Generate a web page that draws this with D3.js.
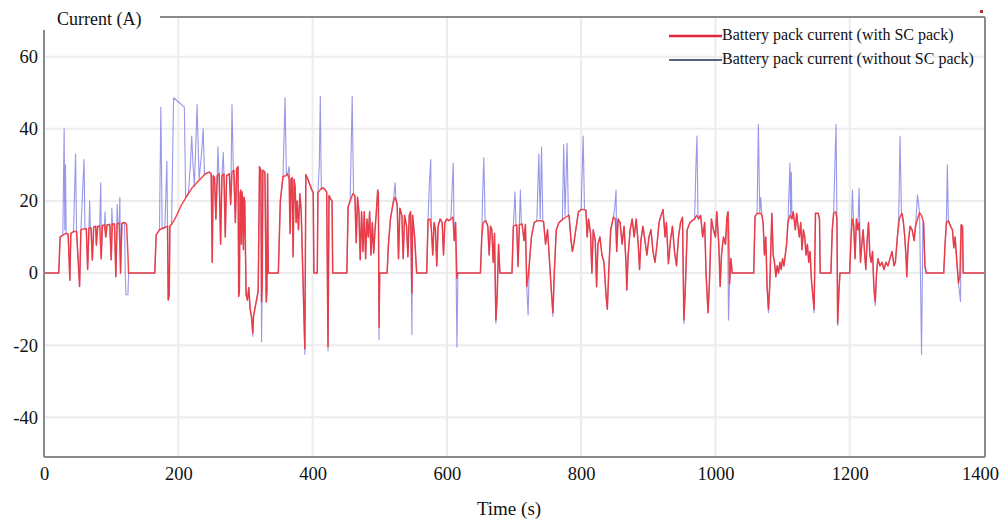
<!DOCTYPE html>
<html>
<head>
<meta charset="utf-8">
<script src="https://cdn.jsdelivr.net/npm/d3@7"></script>
<style>
body { margin: 0; background: #fff; }
text { font-family: "Liberation Serif", "Times New Roman", serif; fill: #111; }
</style>
</head>
<body>
<svg id="chart" width="1003" height="522"></svg>
<script>
const x_ticks = [0, 200, 400, 600, 800, 1000, 1200, 1400]
const y_ticks = [-40, -20, 0, 20, 40, 60]
const series_names = ["Battery pack current (with SC pack)", "Battery pack current (without SC pack)"]
const series_colors = ["#f42a2a", "#6060e0"]

// [time (s), current (A)]
const with_sc = [
    [0,0],[22,0],[24,10],[28,10.5],[33,11],[36,10.8],[38.5,-2],[40,11],[44,11.5],[48.5,11.5],[53,-3.7],[55,12],[60,12.3],[63,12.3],[65,1],[67,12.5],[70,12.5],[72,3.6],[74,12.8],[77,13],[78,7.7],[80,13],[83,13],[85,4],[87,13.2],[90,13.3],[92,10],[94,13.4],[98,13.5],[100,3.7],[102,13.6],[105,13.6],[107,-1],[109,13.7],[112,13.8],[114,0],[116,13.8],[120,14],[123,13.5],[125,5],[126,0],
    [165,0],[167,10.5],[172,12],[178,12.5],[184,13],[185,-7.5],[186.5,-6],[187.5,13],[190,13.5],[195,15],[200,17],[205,19],[210,20.5],[215,22],[220,23.5],[225,24.5],[230,25.5],[235,26.5],[240,27.5],[246,28],[249,27.5],[250.5,3],[252,27],[254,26.5],[256,15],[258,27],[261,27.5],[263,8],[265,27],[268,27.5],[270,10],[272,27],[276,27.5],[278,19],[280,28],[283,28.5],[285,14],[287,29],[289,29.5],
    [290,-6.5],[291,-5],[292,22],[293,23],[294,8],[295,22.5],[296,19.5],[297,6.5],[298,21],[299,20],[301,-6],[303,-7.5],[305,-4],[307,-10],[309,-12],[311,-16.6],[312,-12],[316,-8],[319,-5],[321,29.5],[323,28.5],[324,-8],[325,-3],[326,28.5],[329,28],[331,-8],[332,-5],[333,27.5],[334,0],[349,0],
    [352,20],[356,26.8],[360,27],[363,27.5],[365,26],[366.5,11],[368,26],[369.5,26.5],[371,4.5],[372.5,26],[374,24],[375.5,14],[377,20],[379,12],[381,22],[383,17.6],[388.5,-21],[390,27.3],[393,26],[396,24.5],[399,23],[401,22.3],[402,0],[407,0],[408,22.3],[411,23],[414,23.6],[416,23.6],[419,23],[421,22.5],[423,-20.4],[424.5,21.5],[427,20.5],[429,20],[430,0],
    [451,0],[453,18.4],[456,20],[460,22],[463,21.5],[465,8.4],[467,21],[469,17],[471,3.7],[473,17],[475,6],[477,17],[479,4],[481,15],[483,10],[485,17],[487,5],[489,14],[491,5.5],[493,12],[495,17],[497,23],[498,22],[499,-15],[500,0],[511,0],[513,8],[516,15],[520,19.5],[523,21],[526,19],[528,4],[530,18],[533,16],[535,4],[537,16],[540,13],[542,4.5],[544,16],[546,17],[548,-5.5],[549,16],[552,10],[555,0],
    [570,0],[572,14.8],[575,15],[577,12],[579,5],[581,14],[583,12],[585,2],[587,13],[590,15],[593,14],[595,5],[597,14],[600,15],[603,14.5],[606,15],[609,15.5],[611,9],[613,14],[615,-1.5],[616,0],[650,0],[652,10],[654,14],[658,14.5],[661,13],[663,5],[665,13],[667,12],[669,3],[671,11],[673,-13],[675,-6],[677,8],[679,0],
    [697,0],[699,12.9],[701,13.2],[704,13.3],[706,1.8],[708,13.4],[712,13.6],[715,9],[717,13.5],[719,-3.7],[721,-1],[723,3],[726,10],[730,14],[734,14.5],[740,14.5],[744,14.3],[747,8],[750,12],[753,3],[756,-6],[758,-11],[760,0],[763,12],[767,14],[772,14.8],[777,15.5],[782,16],[785,9],[787,6],[789,8],[792,12],[796,17],[800,17.6],[804,17.6],[807,17.4],[809,10],[811,15],[814,11],[816,0],[818,12],[821,9],[823,-3.8],[825,8],[828,10],[831,5],[834,3],[837,-6],[839,-10],[841,0],[844,12],[848,15.5],[851,15],[853,6],[855,15],[858,14],[861,8],[864,13],[867,2],[868,-4.7],[870,5],[873,12],[876,15],[879,10],[882,15],[885,8],[887,1],[889,9],[892,13],[895,9],[898,5],[901,10],[904,12],[907,6],[910,3],[913,8],[916,14],[919,16],[922,17.6],[925,10],[927,14],[930,2.6],[933,9],[936,13],[939,6],[942,2],[945,10],[948,14],[951,15.5],[953,-13],[955,-5],[958,12],[962,14],[965,14.5],[969,15],[972,16],[975,15],[978,16],[981,10],[984,14],[986,0],[989,-11],[991,-3],[994,15],[997,12],[1000,10],[1002,17],[1005,8],[1007,-3.7],[1009,5],[1012,10],[1015,8],[1017,15],[1019,17],[1021,-3],[1023,4],[1025,0],[1057,0],
    [1059,15.7],[1062,16.5],[1066,16.6],[1069,16.2],[1071,14],[1073,5],[1075,10],[1077,-4],[1079,-10],[1081,-3],[1083,10],[1084,16.6],[1086,5],[1088,3],[1090,-1],[1092,2],[1094,0],[1096,3],[1098,1],[1100,4],[1102,2],[1104,5],[1106,8],[1108,14],[1111,16],[1114,15],[1116,17],[1119,12],[1121,16.5],[1123,13],[1125,10],[1127,14],[1129,6.5],[1131,12],[1133,10],[1135,5],[1137,8],[1139,3],[1141,6],[1143,-2],[1145,-6],[1147,-10],[1149,16.6],[1153,16.6],[1155,15],[1156,0],[1172,0],[1174,12],[1176,16.6],[1179,17],[1181,15],[1182,-13.9],[1184,-5],[1185.5,0],[1200,0],
    [1202,10],[1204,15],[1206,13],[1208,4],[1210,15],[1212,12],[1214,14],[1216,3],[1218,8],[1220,12],[1222,6],[1224,1],[1226,9],[1228,14],[1230,5],[1232,3],[1234,6],[1236,-4],[1238,-7.9],[1240,0],[1242,4],[1245,2],[1248,3],[1251,1],[1254,3],[1257,2],[1260,4],[1263,6],[1266,2],[1268,3],[1271,10],[1274,15],[1276,16],[1278,16.5],[1280,14],[1282,10],[1284,4],[1285,-1],[1287,8],[1290,13],[1293,12],[1296,9],[1298,13],[1301,15],[1304,16.7],[1307,16],[1310,14],[1312,2],[1314,0],[1340,0],[1342,8],[1344,14],[1347,14.5],[1350,13],[1353,12],[1355,7],[1357,10],[1360,2],[1362,-2.8],[1364,-1],[1366,13.4],[1368,13],[1369,0],[1400,0]
]

const without_sc = [
    [0,0],[22,0],[24,10],[28,10.5],[30,40],[31,12],[32,30],[33,11],[36,10.8],[38.5,-2],[40,11],[44,11.5],[47,33],[48.5,11.5],[53,-3.7],[55,12],[59.6,31.5],[61,12.3],[63,12.3],[65,1],[67,12.5],[68,20],[69,12.5],[70,12.5],[72,3.6],[74,12.8],[77,13],[78,7.7],[80,13],[83,13],[84.5,25],[85.5,4],[87,13.2],[90,13.3],[91,17],[92,10],[94,13.4],[98,13.5],[100,3.7],[101,18],[102,13.6],[105,13.6],[107,-1],[109,19],[110,13.7],[112,13.8],[113,21],[114,0],[116,13.8],[120,14],[121,0],[122,-6],[125,-6],[126,0],
    [165,0],[167,10.5],[172,12],[174,46],[176,12.3],[180,12.5],[183,31],[184,13],[185,-7.5],[186.5,-6],[187.5,13],[190,13.5],[193,48.6],[200,47.5],[209,46],[211,21],[215,22],[218,30],[220,38],[222,30],[224,24],[228,46.7],[231,26],[235,34],[237,40],[239,27.3],[240,27.5],[246,28],[249,27.5],[250.5,3],[252,27],[254,26.5],[256,15],[258,27],[259,35],[260.5,27.5],[263,8],[265,27],[267,33.4],[268,27.5],[270,10],[272,27],[276,27.5],[278,19],[280,46.7],[282,28.5],[285,14],[287,29],[289,29.5],
    [290,-6.5],[291,-5],[292,22],[293,23],[294,8],[295,22.5],[296,19.5],[297,6.5],[298,21],[299,20],[301,-6],[303,-7.5],[305,-4],[307,-10],[309,-12],[311,-17.5],[312,-12],[316,-8],[319,-5],[321,29.5],[323,28.5],[324,-19],[325,-3],[326,28.5],[329,28],[331,-8],[332,-5],[333,27.5],[334,0],[349,0],
    [352,20],[356,26.8],[359,48.6],[361,27],[363,27.5],[365,29.5],[366,26],[366.5,11],[368,26],[369.5,26.5],[371,4.5],[372.5,26],[374,24],[375.5,14],[377,20],[379,12],[381,22],[383,17.6],[388.5,-22.5],[390,27.3],[393,26],[396,24.5],[399,23],[401,22.3],[402,0],[407,0],[408,22.3],[410,30],[411.5,49],[413,23.3],[416,23.6],[419,23],[421,22.5],[423,-21.5],[424.5,21.5],[427,20.5],[429,20],[430,0],
    [451,0],[453,18.4],[456,20],[459,49],[461,22],[463,21.5],[465,8.4],[467,21],[469,17],[471,3.7],[473,17],[475,6],[477,17],[479,4],[481,15],[483,10],[485,17],[487,5],[489,14],[491,5.5],[493,12],[495,17],[497,23],[498,22],[499,-18.5],[500,0],[511,0],[513,8],[516,15],[520,19.5],[523,25],[524,21],[526,19],[528,4],[530,18],[533,16],[535,4],[537,16],[540,13],[542,4.5],[544,16],[546,17],[548,-17],[549,16],[552,10],[555,0],
    [570,0],[572,14.8],[574,25],[576,31.5],[577,12],[579,5],[581,14],[583,12],[585,2],[587,13],[590,15],[593,14],[595,5],[597,14],[600,15],[603,14.5],[606,15],[608,24],[609.5,30.5],[611,9],[613,14],[615,-20.5],[616.5,0],[650,0],[652,10],[653,20],[655,32],[657,14.5],[658,14.5],[661,13],[663,5],[665,13],[667,12],[669,3],[671,11],[673,-14],[675,-6],[677,8],[679,0],
    [697,0],[699,12.9],[701.5,22.5],[703,13.2],[704,13.3],[706,1.8],[708,13.4],[709.5,23],[711,13.6],[712,13.6],[715,9],[717,13.5],[719,-3.7],[721,-11.6],[723,3],[726,10],[730,14],[734,14.5],[737,33],[739,15],[741,35],[743,14.4],[744,14.3],[747,8],[750,12],[753,3],[756,-6],[758,-12],[760,0],[763,12],[767,14],[772,14.8],[774,35.6],[776,16],[779,36],[781,16],[782,16],[785,9],[787,6],[789,8],[792,12],[796,17],[800,17.6],[803,38],[805,17.6],[807,17.4],[809,10],[811,15],[814,11],[816,0],[818,12],[821,9],[823,-3.8],[825,8],[828,10],[831,5],[834,3],[837,-6],[839,-10],[841,0],[844,12],[848,15.5],[850,18],[852,23],[853,6],[855,15],[858,14],[861,8],[864,13],[867,2],[868,-4.7],[870,5],[873,12],[876,15],[879,10],[882,15],[885,8],[887,1],[889,9],[892,13],[895,9],[898,5],[901,10],[904,12],[907,6],[910,3],[913,8],[916,14],[919,16],[922,17.6],[925,10],[927,14],[930,2.6],[933,9],[936,13],[939,6],[942,2],[945,10],[948,14],[951,15.5],[953,-14],[955,-5],[958,12],[962,14],[965,14.5],[969,15],[971,30],[972.5,38],[974,16],[975,15],[978,16],[981,10],[984,14],[986,0],[989,-11],[991,-3],[994,15],[997,12],[1000,10],[1002,17],[1005,8],[1007,-3.7],[1009,5],[1012,10],[1015,8],[1017,15],[1018,17],[1019.5,-13],[1021,-3],[1023,4],[1025,0],[1057,0],
    [1059,15.7],[1062,16.5],[1064,41.2],[1066,16.6],[1067.4,21],[1069,16.2],[1071,14],[1073,5],[1075,10],[1077,-4],[1079,-11],[1081,-3],[1083,10],[1084,16.6],[1086,5],[1088,3],[1090,-1],[1092,2],[1094,0],[1096,3],[1098,1],[1100,4],[1102,2],[1104,5],[1106,8],[1108,14],[1111,30.5],[1112,16],[1113,28],[1114,15],[1116,17],[1119,12],[1121,16.5],[1123,13],[1125,10],[1127,14],[1129,6.5],[1131,12],[1133,10],[1135,5],[1137,8],[1139,3],[1141,6],[1143,-2],[1145,-6],[1147,-11],[1149,16.6],[1153,16.6],[1155,15],[1156,0],[1172,0],[1174,12],[1176,16.6],[1179.6,41.2],[1181,15],[1182,-14.5],[1184,-5],[1185.5,0],[1200,0],
    [1202,10],[1204,23],[1206,13],[1208,4],[1210,15],[1212,12],[1214,23.6],[1216,3],[1218,8],[1220,12],[1222,6],[1224,1],[1226,9],[1228,14],[1230,5],[1232,3],[1234,6],[1236,-4],[1238,-9],[1240,0],[1242,4],[1245,2],[1248,3],[1251,1],[1254,3],[1257,2],[1260,4],[1263,6],[1266,2],[1268,3],[1271,10],[1273,16],[1275,37.9],[1277,16],[1278,16.5],[1280,14],[1282,10],[1284,4],[1285,-1],[1287,8],[1290,13],[1293,12],[1296,9],[1298,13],[1301,21.7],[1304,16.7],[1307,-22.5],[1309,14],[1310,14],[1312,2],[1314,0],[1340,0],[1342,8],[1344,14],[1345.4,30],[1347,14.5],[1350,13],[1353,12],[1355,7],[1357,10],[1360,2],[1362,-2.8],[1365,-7.9],[1366,13.4],[1368,13],[1369,0],[1400,0]
]

let svg = d3.select("#chart")
svg.append("rect").attr("width", 1003).attr("height", 522).attr("fill", "#fff")

let plot_left = 44, plot_right = 985, plot_top = 17, plot_bottom = 457

let x = d3.scaleLinear().domain([0, 1400]).range([plot_left, 984])
let y = d3.scaleLinear().domain([-51, 71]).range([plot_bottom, plot_top])

// light grid
let grid = svg.append("g").attr("stroke", "#ececec").attr("stroke-width", 2)
x_ticks.slice(1, -1).forEach(function(t) {
    grid.append("line")
        .attr("x1", x(t)).attr("x2", x(t))
        .attr("y1", plot_top).attr("y2", plot_bottom)
})
y_ticks.forEach(function(v) {
    grid.append("line")
        .attr("x1", plot_left).attr("x2", plot_right)
        .attr("y1", y(v)).attr("y2", y(v))
})

// series, blue underneath red
let line = d3.line().x(d => x(d[0])).y(d => y(d[1]))
svg.append("path")
    .datum(without_sc)
    .attr("d", line)
    .attr("fill", "none")
    .attr("stroke", series_colors[1])
    .attr("stroke-opacity", 0.65)
    .attr("stroke-width", 1.1)
    .attr("stroke-linejoin", "round")
svg.append("path")
    .datum(with_sc)
    .attr("d", line)
    .attr("fill", "none")
    .attr("stroke", series_colors[0])
    .attr("stroke-opacity", 0.85)
    .attr("stroke-width", 1.5)
    .attr("stroke-linejoin", "round")

// frame
let frame = svg.append("g").attr("stroke", "#8a8a8a").attr("stroke-width", 2).attr("fill", "none")
frame.append("line").attr("x1", plot_left).attr("x2", plot_left).attr("y1", 30).attr("y2", plot_bottom)
frame.append("line").attr("x1", plot_left).attr("x2", plot_right).attr("y1", plot_bottom).attr("y2", plot_bottom)
frame.append("line").attr("x1", plot_right).attr("x2", plot_right).attr("y1", plot_top).attr("y2", plot_bottom)
frame.append("line").attr("x1", 160).attr("x2", plot_right).attr("y1", plot_top).attr("y2", plot_top)

// axes
let plain = d3.format("d")
let x_axis = svg.append("g")
    .attr("transform", "translate(0," + (plot_bottom + 10) + ")")
    .call(d3.axisBottom(x).tickValues(x_ticks).tickSize(0).tickPadding(0).tickFormat(plain))
x_axis.select(".domain").remove()
x_axis.selectAll("text").attr("font-size", 18.5).attr("fill", "#111").attr("font-family", "Liberation Serif")
x_axis.selectAll("text").filter(d => d == 1400).attr("dx", -4)

let y_axis = svg.append("g")
    .attr("transform", "translate(" + (plot_left - 6) + ",0)")
    .call(d3.axisLeft(y).tickValues(y_ticks).tickSize(0).tickPadding(0).tickFormat(d => String(d)))
y_axis.select(".domain").remove()
y_axis.selectAll("text").attr("font-size", 18.5).attr("fill", "#111").attr("font-family", "Liberation Serif")

svg.append("text")
    .attr("x", 57).attr("y", 25)
    .attr("font-size", 18)
    .text("Current (A)")

svg.append("text")
    .attr("x", 509).attr("y", 515)
    .attr("text-anchor", "middle")
    .attr("font-size", 19)
    .text("Time (s)")

// legend
let legend_y = [36, 60]
let legend_line_colors = ["#e0243a", "#56607e"]
series_names.forEach(function(name, i) {
    svg.append("line")
        .attr("x1", 669).attr("x2", 722)
        .attr("y1", legend_y[i]).attr("y2", legend_y[i])
        .attr("stroke", legend_line_colors[i])
        .attr("stroke-width", i == 0 ? 2.5 : 1.8)
    svg.append("text")
        .attr("x", 722).attr("y", legend_y[i] + 4)
        .attr("font-size", 16)
        .text(name)
})

svg.append("rect")
    .attr("x", 980).attr("y", 10).attr("width", 3).attr("height", 3)
    .attr("fill", "#b03030")
</script>
</body>
</html>
